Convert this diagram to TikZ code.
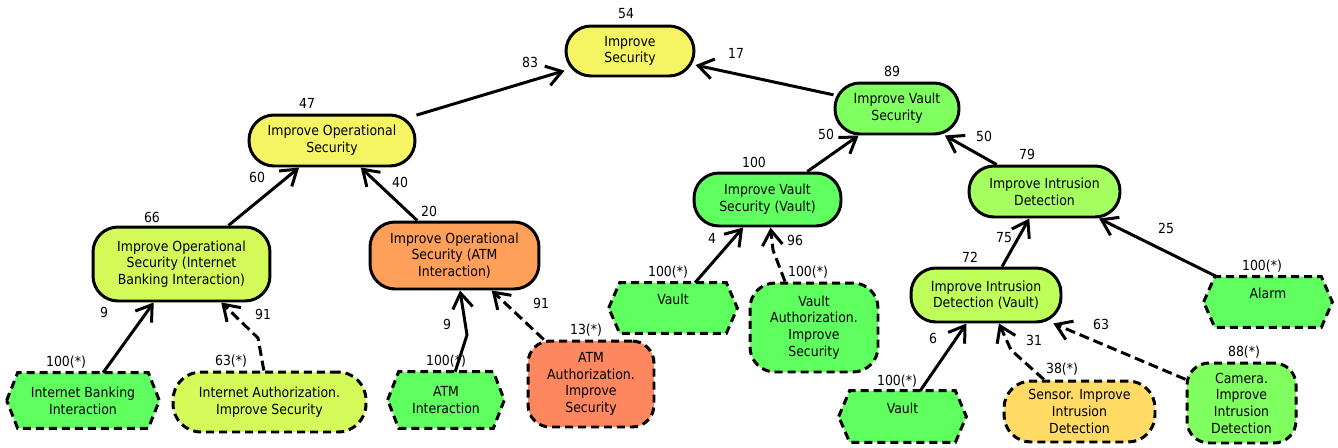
\documentclass[tikz,border=0pt]{standalone}
\usepackage{fontspec}
\setmainfont{DejaVu Sans Condensed}
\usetikzlibrary{arrows.meta,backgrounds,calc}
\definecolor{cYel}{RGB}{245,245,100}
\definecolor{cLime}{RGB}{212,250,90}
\definecolor{cOra}{RGB}{255,160,90}
\definecolor{cSal}{RGB}{255,135,95}
\definecolor{cHex}{RGB}{95,255,95}
\definecolor{cGrn}{RGB}{95,255,95}
\definecolor{cLgrn}{RGB}{128,255,96}
\definecolor{cIdg}{RGB}{165,255,95}
\definecolor{cIvg}{RGB}{190,255,90}
\definecolor{cSen}{RGB}{255,218,100}
\newcommand\hexfr[1]{%
  \begin{scope}[on background layer]
  \draw[hexline] (#1.west) -- ([xshift=0.22cm]#1.north west) -- ([xshift=-0.22cm]#1.north east) -- (#1.east) -- ([xshift=-0.22cm]#1.south east) -- ([xshift=0.22cm]#1.south west) -- cycle;
  \end{scope}}
\begin{document}
\begin{tikzpicture}[x=0.02cm,y=-0.02cm,
  font=\fontsize{7.9pt}{9.5pt}\selectfont,
  box/.style={draw=black, line width=1.7pt, rounded corners=0.5cm, align=center, inner sep=0pt},
  dbox/.style={box, dash pattern=on 0.16cm off 0.1cm},
  hexn/.style={align=center, inner sep=0pt},
  hexline/.style={draw=black, fill=cHex, line width=1.7pt, dash pattern=on 0.16cm off 0.1cm},
  edge/.style={line width=1.7pt, -{Straight Barb[length=0.3cm,width=0.4cm]}},
  dedge/.style={edge, dash pattern=on 0.2cm off 0.1cm},
  num/.style={inner sep=0pt}
]
\useasboundingbox (0,0) rectangle (1338,447);
\begin{scope}[on background layer]
\fill[white] (0,0) rectangle (1338,447);
\end{scope}

% main nodes
\node[box, fill=cYel, minimum width=2.56cm, minimum height=1.0cm] (is) at (630,51) {Improve\\Security};
\node[box, fill=cYel, minimum width=3.32cm, minimum height=1.02cm] (os) at (332,140.5) {Improve Operational\\Security};
\node[box, fill=cLime, minimum width=3.54cm, minimum height=1.48cm] (ibo) at (181.5,264) {Improve Operational\\Security (Internet\\Banking Interaction)};
\node[box, fill=cOra, minimum width=3.38cm, minimum height=1.34cm] (ato) at (454.5,255.5) {Improve Operational\\Security (ATM\\Interaction)};
\node[hexn, minimum width=3.04cm, minimum height=1.10cm] (ibh) at (83,400.5) {Internet Banking\\Interaction};
\hexfr{ibh}
\node[dbox, fill=cLime, minimum width=3.86cm, minimum height=1.2cm, rounded corners=0.56cm] (ia) at (269.5,402) {Internet Authorization.\\Improve Security};
\node[hexn, minimum width=2.32cm, minimum height=1.12cm] (ath) at (446,400) {ATM\\Interaction};
\hexfr{ath}
\node[dbox, fill=cSal, minimum width=2.52cm, minimum height=1.72cm, rounded corners=0.44cm] (aa) at (591,384) {ATM\\Authorization.\\Improve\\Security};

\node[box, fill=cLgrn, minimum width=2.48cm, minimum height=1.02cm] (vs) at (897,108.5) {Improve Vault\\Security};
\node[box, fill=cGrn, minimum width=2.94cm, minimum height=1.06cm] (vsv) at (767.5,199.5) {Improve Vault\\Security (Vault)};
\node[hexn, minimum width=2.56cm, minimum height=1.0cm] (v1) at (673,308) {Vault\\\mbox{}};
\hexfr{v1}
\node[dbox, fill=cGrn, minimum width=2.56cm, minimum height=1.78cm] (va) at (814,327.5) {Vault\\Authorization.\\Improve\\Security};
\node[box, fill=cIdg, minimum width=3.02cm, minimum height=1.02cm] (id) at (1044.5,191.5) {Improve Intrusion\\Detection};
\node[box, fill=cIvg, minimum width=3.0cm, minimum height=1.08cm] (iiv) at (986,295) {Improve Intrusion\\Detection (Vault)};
\node[hexn, minimum width=2.56cm, minimum height=1.0cm] (al) at (1268,302) {Alarm\\\mbox{}};
\hexfr{al}
\node[hexn, minimum width=2.54cm, minimum height=1.02cm] (v2) at (902.5,416.5) {Vault\\\mbox{}};
\hexfr{v2}
\node[dbox, fill=cSen, minimum width=3.02cm, minimum height=1.22cm, rounded corners=0.54cm] (se) at (1079.5,411.5) {Sensor. Improve\\Intrusion\\Detection};
\node[dbox, fill=cLgrn, minimum width=2.18cm, minimum height=1.6cm, rounded corners=0.44cm] (ca) at (1241.5,403) {Camera.\\Improve\\Intrusion\\Detection};

% bends
\coordinate (b1) at (258,338);
\coordinate (b2) at (467,335);
\coordinate (b3) at (773,250);
\coordinate (b4) at (1011,350);
\coordinate (vaS) at ($(va.north)+(-29,0)$);

% edges
\draw[edge] (os) -- (is);
\draw[edge] (vs) -- (is);
\draw[edge] (ibo) -- (os);
\draw[edge] (ato) -- (os);
\draw[edge] (ibh) -- (ibo);
\draw[dedge] (ia) -- (b1) -- (ibo);
\draw[edge] (ath) -- (b2) -- (ato);
\draw[dedge] (aa) -- (ato);
\draw[edge] (vsv) -- (vs);
\draw[edge] (id) -- (vs);
\draw[edge] (v1) -- (vsv);
\draw[dedge] (vaS) -- (b3) -- (vsv);
\draw[edge] (iiv) -- (id);
\draw[edge] (al) -- (id);
\draw[edge] (v2) -- (iiv);
\draw[dedge] (se) -- (b4) -- (iiv);
\draw[dedge] (ca) -- (iiv);

% value labels
\node[num] (l54) at (626,14) {54};
\node[num] (l83) at (530,62) {83};
\node[num] (l17) at (736,53) {17};
\node[num] (l47) at (307,103) {47};
\node[num] (l89) at (892,71) {89};
\node[num] (l50a) at (826,134) {50};
\node[num] (l50b) at (984,136) {50};
\node[num] (l79) at (1027,154) {79};
\node[num] (l100) at (754,162) {100};
\node[num] (l60) at (257,177) {60};
\node[num] (l40) at (400,182) {40};
\node[num] (l66) at (152,217) {66};
\node[num] (l20) at (429,211) {20};
\node[num] (l4) at (712,238) {4};
\node[num] (l96) at (795,240) {96};
\node[num] (lv1) at (668,272) {100(*)};
\node[num] (lva) at (808,272) {100(*)};
\node[num] (l75) at (1004,238) {75};
\node[num] (l25) at (1166,228) {25};
\node[num] (l72) at (970,257) {72};
\node[num] (lal) at (1262,266) {100(*)};
\node[num] (l9a) at (104,312) {9};
\node[num] (l91a) at (263,314) {91};
\node[num] (l9b) at (447,324) {9};
\node[num] (l91b) at (541,303) {91};
\node[num] (laa) at (586,330) {13(*)};
\node[num] (l63) at (1101,324) {63};
\node[num] (l6) at (933,338) {6};
\node[num] (l31) at (1034,340) {31};
\node[num] (lca) at (1244,352) {88(*)};
\node[num] (libh) at (66,362) {100(*)};
\node[num] (lia) at (231,361) {63(*)};
\node[num] (lath) at (446,361) {100(*)};
\node[num] (lse) at (1062,369) {38(*)};
\node[num] (lv2) at (897,381) {100(*)};
\end{tikzpicture}
\end{document}
